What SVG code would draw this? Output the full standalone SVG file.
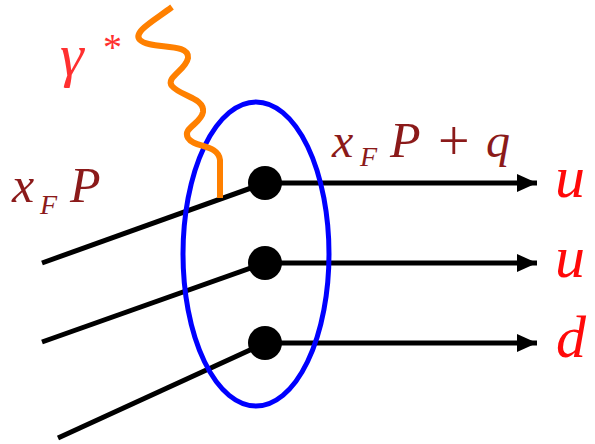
<svg xmlns="http://www.w3.org/2000/svg" width="595" height="444" viewBox="0 0 595 444">
<style>
.ln{stroke:#000;stroke-width:5;fill:none}
.dot{fill:#000}
.lab{font-family:"Liberation Serif",serif;font-style:italic}
.up{font-style:normal}
.q{fill:#ff0a0a;font-size:60px}
.mom{fill:#8b1a1a;font-size:46px}
.sub{font-size:28px}
</style>
<defs>
<marker id="ah" markerWidth="22" markerHeight="20" refX="20" refY="9" orient="auto" markerUnits="userSpaceOnUse">
<path d="M0,0 L20,9 L0,18 Z" fill="#000"/>
</marker>
</defs>
<g id="connectors">
<line class="ln" x1="42" y1="263" x2="265" y2="183"/>
<line class="ln" x1="42" y1="342" x2="265" y2="263"/>
<line class="ln" x1="58" y1="438" x2="265" y2="343"/>
<line class="ln" x1="265" y1="183" x2="537" y2="183" marker-end="url(#ah)"/>
<line class="ln" x1="265" y1="263" x2="537" y2="263" marker-end="url(#ah)"/>
<line class="ln" x1="265" y1="343" x2="537" y2="343" marker-end="url(#ah)"/>
</g>
<g id="proton">
<ellipse cx="256" cy="254" rx="73" ry="152" fill="none" stroke="#0000ff" stroke-width="5"/>
</g>
<g id="photon">
<path d="M172,7 C155,20 132,32 140,40 C150,50 190,42 188,58 C186,70 165,78 172,86 C180,96 205,98 203,112 C201,124 182,128 188,138 C194,148 218,144 220,160 L220,198" fill="none" stroke="#ff8000" stroke-width="6"/>
</g>
<g id="quark1"><circle class="dot" cx="265" cy="183" r="17"/></g>
<g id="quark2"><circle class="dot" cx="265" cy="263" r="17"/></g>
<g id="quark3"><circle class="dot" cx="265" cy="343" r="17"/></g>
<g id="label-gamma" fill="#ff3030">
<text class="lab" x="60" y="75" font-size="60">γ</text>
<text class="lab up" x="103" y="60" font-size="38">*</text>
</g>
<g id="label-xFP" class="mom">
<text class="lab" x="12" y="202" font-size="50">x</text>
<text class="lab sub" x="40" y="214">F</text>
<text class="lab" x="70" y="202" font-size="50">P</text>
</g>
<g id="label-xFPq" class="mom">
<text class="lab" x="332" y="157" font-size="48">x</text>
<text class="lab sub" x="360" y="166">F</text>
<text class="lab" x="390" y="157" font-size="50">P</text>
<text class="lab up" x="438" y="160" font-size="56">+</text>
<text class="lab" x="486" y="157" font-size="48">q</text>
</g>
<g id="flavours" class="q">
<text class="lab" x="555" y="197">u</text>
<text class="lab" x="555" y="277">u</text>
<text class="lab" x="556" y="357">d</text>
</g>
</svg>
